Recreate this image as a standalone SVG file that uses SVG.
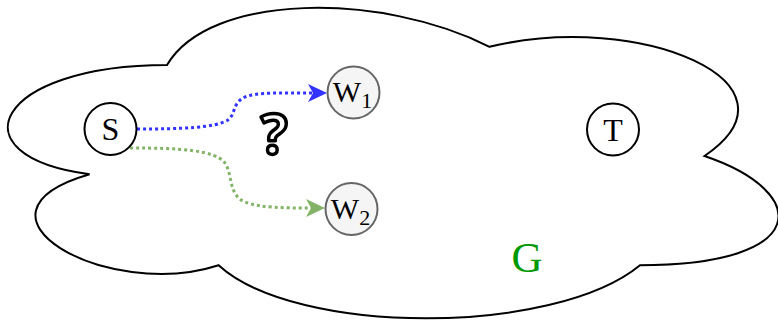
<svg xmlns="http://www.w3.org/2000/svg" width="778" height="320" viewBox="0 0 778 320">
  <style>
    .node { stroke-width: 2; }
    .plain { fill: #ffffff; stroke: #000000; }
    .grey { fill: #f5f5f5; stroke: #666666; }
    .lbl { font-family: "Liberation Serif", "Times New Roman", serif; font-size: 32px; fill: #000000; text-anchor: middle; }
    .wl { font-size: 30px; }
    .sub { font-size: 22px; }
    .edge { fill: none; stroke-width: 3; stroke-dasharray: 3 3; }
  </style>
  <defs>
    <marker id="arrow-blue" markerUnits="userSpaceOnUse" markerWidth="22" markerHeight="22" refX="5" refY="11" orient="auto">
      <path d="M0,2 L19,11 L0,20 L5,11 Z" fill="#3333ff"/>
    </marker>
    <marker id="arrow-green" markerUnits="userSpaceOnUse" markerWidth="22" markerHeight="22" refX="5" refY="11" orient="auto">
      <path d="M0,2 L19,11 L0,20 L5,11 Z" fill="#82b366"/>
    </marker>
  </defs>

  <!-- graph G drawn as a cloud -->
  <g id="graph-G">
    <path d="M167,65 C-5,65 -48,156 89.6,174.2 C-48,214.2 106.8,301.6 218.6,265.2 C296,336 554,336 640,265.2 C812,265.2 812,192.4 704.5,156 C812,83.2 640,10.4 489.5,46.8 C382,-7.8 210,-7.8 167,65 Z" fill="#ffffff" stroke="#000000" stroke-width="2"/>
    <text x="527" y="272" font-family="Liberation Serif, Times New Roman, serif" font-size="43" fill="#009900" text-anchor="middle">G</text>
  </g>

  <!-- connectors -->
  <g id="connectors">
    <path class="edge" stroke="#3333ff" marker-end="url(#arrow-blue)" d="M137,129 C180,129 215,128 228,120 C236,114 232,103 245,97 C258,92 280,93 313,93"/>
    <path class="edge" stroke="#82b366" marker-end="url(#arrow-green)" d="M130,148 C180,148 215,150 225,163 C233,175 228,195 245,202 C260,208 285,208 311,208"/>
  </g>

  <!-- open question between S and the W nodes -->
  <g id="question">
    <text x="274" y="154" font-family="Noto Sans, sans-serif" font-weight="bold" font-size="56" fill="#ffffff" stroke="#000000" stroke-width="3.5" stroke-linejoin="round" text-anchor="middle">?</text>
  </g>

  <g id="node-S">
    <circle class="node plain" cx="110.5" cy="129" r="26"/>
    <text class="lbl" x="110.5" y="140">S</text>
  </g>

  <g id="node-T">
    <circle class="node plain" cx="613" cy="129.5" r="26"/>
    <text class="lbl" x="613" y="140.5">T</text>
  </g>

  <g id="node-W1">
    <circle class="node grey" cx="353.5" cy="92.5" r="26"/>
    <text class="lbl wl" x="352.5" y="102">W<tspan class="sub" dy="6">1</tspan></text>
  </g>

  <g id="node-W2">
    <circle class="node grey" cx="351.5" cy="209" r="26"/>
    <text class="lbl wl" x="350.5" y="218.5">W<tspan class="sub" dy="6">2</tspan></text>
  </g>
</svg>
